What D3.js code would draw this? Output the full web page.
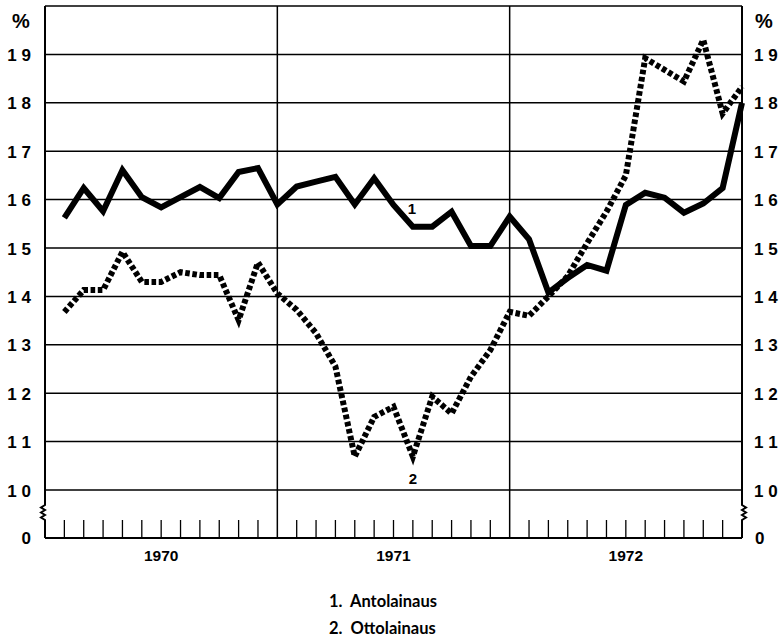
<!DOCTYPE html>
<html>
<head>
<meta charset="utf-8">
<script src="https://cdn.jsdelivr.net/npm/d3@7"></script>
<style>
  body { margin: 0; background: #fff; }
  #chart text { fill: #000; }
</style>
</head>
<body>
<div id="chart"></div>
<script>
// Datos: 36 meses (1970-1972), valor al final de cada mes
const years = ['1970', '1971', '1972'];
const yTicks = [10, 11, 12, 13, 14, 15, 16, 17, 18, 19];
const antolainaus = [
    15.62, 16.24, 15.76, 16.61, 16.05, 15.84, 16.05, 16.26, 16.03, 16.57, 16.65, 15.90,
    16.27, 16.37, 16.47, 15.90, 16.44, 15.89, 15.44, 15.44, 15.75, 15.04, 15.04, 15.65,
    15.18, 14.08, 14.38, 14.65, 14.53, 15.89, 16.14, 16.04, 15.73, 15.92, 16.24, 18.00
];
const ottolainaus = [
    13.68, 14.13, 14.13, 14.92, 14.30, 14.30, 14.50, 14.44, 14.44, 13.51, 14.70, 14.06,
    13.72, 13.24, 12.55, 10.69, 11.51, 11.72, 10.69, 11.93, 11.58, 12.34, 12.89, 13.68,
    13.60, 14.00, 14.42, 15.10, 15.75, 16.50, 18.92, 18.68, 18.44, 19.30, 17.78, 18.33
];
const legendLabels = ['1.  Antolainaus', '2.  Ottolainaus'];

const W = 782, H = 638;
const margin = {top: 6, right: 40, bottom: 100, left: 45};
const width = W - margin.left - margin.right,
      height = H - margin.top - margin.bottom; // 532
const breakH = 48; // tramo roto bajo el 10

let svg = d3.select('#chart').append('svg')
    .attr('width', W).attr('height', H)
    .append('g')
    .attr('transform', 'translate(' + margin.left + ',' + margin.top + ')');

const nMonths = antolainaus.length;
let x = d3.scaleLinear().domain([0, nMonths]).range([0, width]);
let y = d3.scaleLinear().domain([10, 20]).range([height - breakH, 0]);

const numFont = '"Liberation Sans", Arial, sans-serif';

// Rejilla horizontal
svg.append('g').selectAll('line')
    .data(yTicks)
    .enter().append('line')
    .attr('x1', 0).attr('x2', width)
    .attr('y1', d => y(d)).attr('y2', d => y(d))
    .attr('stroke', '#000').attr('stroke-width', 1.5);

// Separadores de año
svg.append('g').selectAll('line')
    .data([12, 24])
    .enter().append('line')
    .attr('x1', d => x(d)).attr('x2', d => x(d))
    .attr('y1', 0).attr('y2', height)
    .attr('stroke', '#000').attr('stroke-width', 1.5);

// Marco: arriba y abajo
svg.append('line').attr('x1', 0).attr('x2', width).attr('y1', 0).attr('y2', 0)
    .attr('stroke', '#000').attr('stroke-width', 1.3);
svg.append('line').attr('x1', 0).attr('x2', width).attr('y1', height).attr('y2', height)
    .attr('stroke', '#000').attr('stroke-width', 2.2);

// Ejes verticales con corte
const bTop = height - 33, bBot = height - 18;
function breakPath(x0, dir) {
    let p = d3.path();
    p.moveTo(x0, 0);
    p.lineTo(x0, bTop);
    p.lineTo(x0 + dir * 4, bTop + 2.5);
    p.lineTo(x0, bTop + 5);
    p.lineTo(x0 + dir * 4, bTop + 7.5);
    p.lineTo(x0, bTop + 10);
    p.lineTo(x0 + dir * 4, bTop + 12.5);
    p.lineTo(x0, bBot);
    p.lineTo(x0, height);
    return p.toString();
}
svg.append('path').attr('d', breakPath(0, -1))
    .attr('fill', 'none').attr('stroke', '#000').attr('stroke-width', 2);
svg.append('path').attr('d', breakPath(width, 1))
    .attr('fill', 'none').attr('stroke', '#000').attr('stroke-width', 2);

// Marcas mensuales
svg.append('g').selectAll('line')
    .data(d3.range(1, nMonths).filter(d => d % 12 != 0))
    .enter().append('line')
    .attr('x1', d => x(d)).attr('x2', d => x(d))
    .attr('y1', height - 18).attr('y2', height)
    .attr('stroke', '#000').attr('stroke-width', 1.3);

// Etiquetas eje Y (izquierda y derecha)
let gl = svg.append('g')
    .call(d3.axisLeft(y).tickValues(yTicks).tickSize(0).tickPadding(14)
        .tickFormat(d => String(d).split('').join(' ')));
let gr = svg.append('g').attr('transform', 'translate(' + width + ',0)')
    .call(d3.axisRight(y).tickValues(yTicks).tickSize(0).tickPadding(12)
        .tickFormat(d => String(d).split('').join(' ')));
[gl, gr].forEach(function(g) {
    g.select('.domain').remove();
    g.selectAll('text')
        .attr('font-family', numFont).attr('font-weight', 'bold')
        .attr('font-size', 17).attr('fill', '#000')
        .attr('dy', '0.36em')
        .style('white-space', 'pre');
});

// "0" y "%"
svg.append('text').attr('x', -14).attr('y', height).attr('dy', '0.36em')
    .attr('text-anchor', 'end').attr('font-family', numFont).attr('font-weight', 'bold')
    .attr('font-size', 17).text('0');
svg.append('text').attr('x', width + 13).attr('y', height).attr('dy', '0.36em')
    .attr('font-family', numFont).attr('font-weight', 'bold')
    .attr('font-size', 17).text('0');
svg.append('text').attr('x', -24).attr('y', 15).attr('dy', '0.36em')
    .attr('text-anchor', 'middle').attr('font-family', numFont).attr('font-weight', 'bold')
    .attr('font-size', 20).text('%');
svg.append('text').attr('x', width + 22).attr('y', 15).attr('dy', '0.36em')
    .attr('text-anchor', 'middle').attr('font-family', numFont).attr('font-weight', 'bold')
    .attr('font-size', 20).text('%');

// Años
svg.append('g').selectAll('text')
    .data(years)
    .enter().append('text')
    .attr('x', (d, i) => x(i * 12 + 6))
    .attr('y', height + 23)
    .attr('text-anchor', 'middle')
    .attr('font-family', numFont).attr('font-weight', 'bold').attr('font-size', 15.5)
    .text(d => d);

// Líneas
let line = d3.line()
    .x((d, i) => x(i + 1))
    .y(d => y(d));

svg.append('path')
    .datum(ottolainaus)
    .attr('d', line)
    .attr('fill', 'none').attr('stroke', '#000')
    .attr('stroke-width', 6)
    .attr('stroke-dasharray', '4.6,2.6')
    .attr('stroke-linejoin', 'miter');

svg.append('path')
    .datum(antolainaus)
    .attr('d', line)
    .attr('fill', 'none').attr('stroke', '#000')
    .attr('stroke-width', 6)
    .attr('stroke-linejoin', 'miter');

// Rótulos de las series
svg.append('text').attr('x', x(19) - 1).attr('y', y(15.72) + 1)
    .attr('text-anchor', 'middle').attr('font-family', numFont).attr('font-weight', 'bold')
    .attr('font-size', 15).text('1');
svg.append('text').attr('x', x(19)).attr('y', y(10.69) + 27)
    .attr('text-anchor', 'middle').attr('font-family', numFont).attr('font-weight', 'bold')
    .attr('font-size', 15).text('2');

// Leyenda
svg.append('g').selectAll('text')
    .data(legendLabels)
    .enter().append('text')
    .attr('x', 284)
    .attr('y', (d, i) => 607 + i * 27 - margin.top)
    .attr('font-family', 'Lato, "Open Sans", sans-serif').attr('font-weight', 'bold')
    .attr('font-size', 16.5)
    .style('white-space', 'pre')
    .text(d => d);
</script>
</body>
</html>
